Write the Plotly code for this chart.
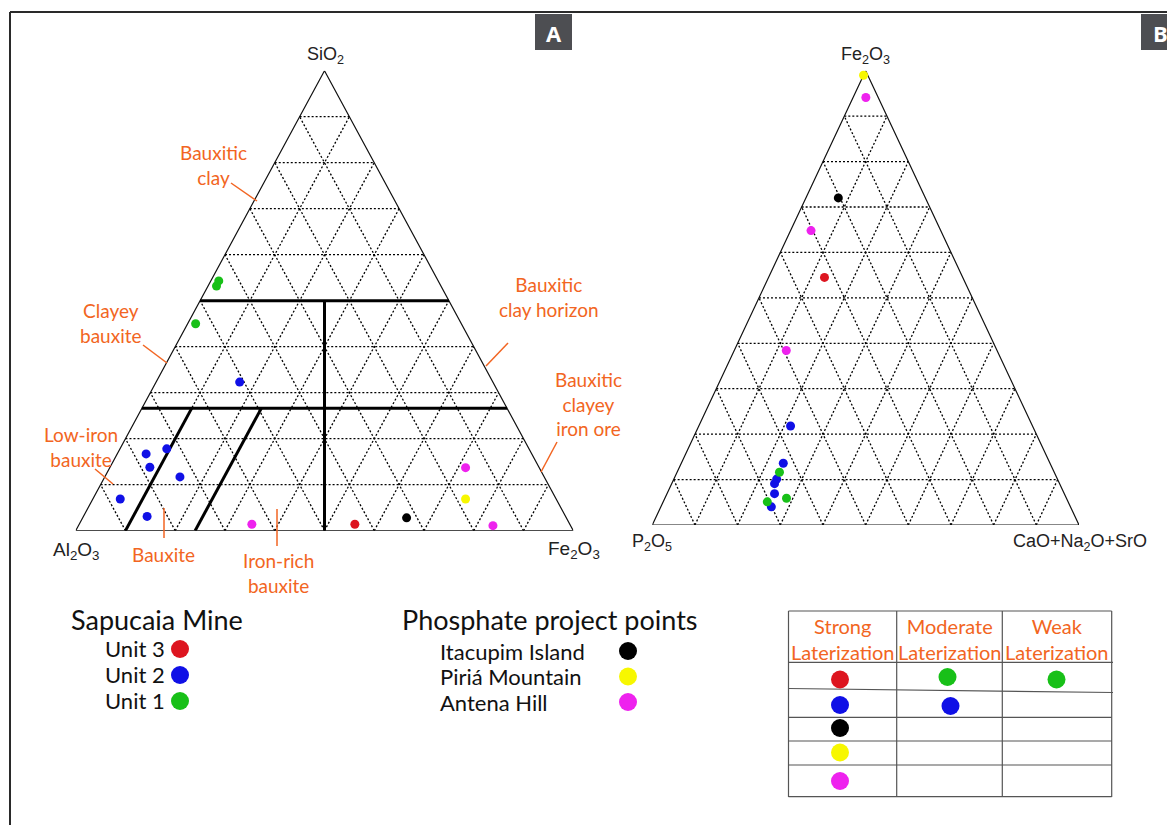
import plotly.graph_objects as go

W, H = 1167, 825

# ---------------- Diagram A: SiO2 (top) - Al2O3 (left) - Fe2O3 (right), wt.% ----------------
A_UNIT3_SIO2 = [1.4]
A_UNIT3_AL2O3 = [43.2]
A_UNIT3_FE2O3 = [55.4]

A_UNIT2_SIO2 = [32.3, 17.8, 16.7, 13.8, 11.7, 6.9, 3.1]
A_UNIT2_AL2O3 = [50.9, 72.8, 77.5, 78.2, 73.2, 87.6, 84.1]
A_UNIT2_FE2O3 = [16.8, 9.4, 5.8, 8.0, 15.1, 5.5, 12.8]

A_UNIT1_SIO2 = [53.2, 54.3, 45.0]
A_UNIT1_AL2O3 = [45.1, 44.1, 53.4]
A_UNIT1_FE2O3 = [1.7, 1.6, 1.6]

A_ITACUPIM_SIO2 = [2.8]
A_ITACUPIM_AL2O3 = [32.1]
A_ITACUPIM_FE2O3 = [65.1]

A_PIRIA_SIO2 = [6.9]
A_PIRIA_AL2O3 = [18.2]
A_PIRIA_FE2O3 = [74.9]

A_ANTENA_SIO2 = [1.4, 13.7, 1.1]
A_ANTENA_AL2O3 = [63.9, 14.8, 15.6]
A_ANTENA_FE2O3 = [34.7, 71.5, 83.3]

# field boundaries of diagram A (wt.%)
A_SIO2_BOUNDS = [50.0, 26.6]      # horizontal limits (full width)
A_FE2O3_BOUNDS = [10.0, 24.0]     # bauxite / iron-rich bauxite limits below the lower SiO2 limit

# ---------------- Diagram B: Fe2O3 (top) - P2O5 (left) - CaO+Na2O+SrO (right), wt.% ----------------
B_UNIT3_FE2O3 = [54.5]
B_UNIT3_P2O5 = [32.4]
B_UNIT3_CAO = [13.1]

B_UNIT2_FE2O3 = [21.8, 13.6, 10.1, 9.1, 6.9, 4.0]
B_UNIT2_P2O5 = [56.7, 62.5, 65.8, 66.8, 67.9, 70.1]
B_UNIT2_CAO = [21.5, 23.9, 24.1, 24.1, 25.2, 25.9]

B_UNIT1_FE2O3 = [11.6, 5.1, 5.9]
B_UNIT1_P2O5 = [64.4, 70.5, 65.6]
B_UNIT1_CAO = [24.0, 24.4, 28.5]

B_ITACUPIM_FE2O3 = [72.0]
B_ITACUPIM_P2O5 = [20.4]
B_ITACUPIM_CAO = [7.6]

B_PIRIA_FE2O3 = [99.0]
B_PIRIA_P2O5 = [1.0]
B_PIRIA_CAO = [0.0]

B_ANTENA_FE2O3 = [94.1, 64.8, 38.4]
B_ANTENA_P2O5 = [2.9, 30.4, 49.4]
B_ANTENA_CAO = [3.0, 4.8, 12.2]

GRID_STEPS = [10, 20, 30, 40, 50, 60, 70, 80, 90]

SERIES = ["Unit 3", "Unit 2", "Unit 1", "Itacupim Island", "Piriá Mountain", "Antena Hill"]
COLORS = {
    "Unit 3": "#dd1520",
    "Unit 2": "#1010e6",
    "Unit 1": "#18c018",
    "Itacupim Island": "#000000",
    "Piriá Mountain": "#f7f700",
    "Antena Hill": "#ee22ee",
}

# laterization table: which series fall in each column
STRONG = ["Unit 3", "Unit 2", "Itacupim Island", "Piriá Mountain", "Antena Hill"]
MODERATE = ["Unit 1", "Unit 2"]
WEAK = ["Unit 1"]

ORANGE = "#f26522"
AXIS_FONT = "Liberation Sans"
TEXT_FONT = "Lato"


def px(x):
    return x / W


def py(y):
    return 1 - y / H


def tern_xy(top, right):
    """Ternary (top, right) percentages -> unit-triangle cartesian coordinates."""
    xs = [(r + t / 2) / 100 for t, r in zip(top, right)]
    ys = [t / 100 for t in top]
    return xs, ys


def grid_lines(steps):
    xs, ys = [], []
    for s in steps:
        for t0, r0, t1, r1 in (
            (s, 0, s, 100 - s),            # constant top
            (0, s, 100 - s, s),            # constant right
            (0, 100 - s, 100 - s, 0),      # constant left
        ):
            x, y = tern_xy([t0, t1], [r0, r1])
            xs += x + [None]
            ys += y + [None]
    return xs, ys


fig = go.Figure()


def add_frame(xa, ya):
    gx, gy = grid_lines(GRID_STEPS)
    fig.add_trace(go.Scatter(x=gx, y=gy, mode="lines", xaxis=xa, yaxis=ya,
                             line=dict(color="#000000", width=1.3, dash="2px,2px"),
                             hoverinfo="skip", showlegend=False))
    ox, oy = tern_xy([0, 0, 100, 0], [0, 100, 0, 0])
    fig.add_trace(go.Scatter(x=ox, y=oy, mode="lines", xaxis=xa, yaxis=ya,
                             line=dict(color="#111111", width=1.2),
                             hoverinfo="skip", showlegend=False))


add_frame("x", "y")
add_frame("x2", "y2")

# field boundaries in diagram A
bx, by = [], []
for s in A_SIO2_BOUNDS:
    x, y = tern_xy([s, s], [0, 100 - s])
    bx += x + [None]
    by += y + [None]
x, y = tern_xy([A_SIO2_BOUNDS[0], 0], [(100 - A_SIO2_BOUNDS[0]) / 2, 50])
bx += x + [None]
by += y + [None]
for f in A_FE2O3_BOUNDS:
    x, y = tern_xy([A_SIO2_BOUNDS[1], 0], [f, f])
    bx += x + [None]
    by += y + [None]
fig.add_trace(go.Scatter(x=bx, y=by, mode="lines", xaxis="x", yaxis="y",
                         line=dict(color="#000000", width=3),
                         hoverinfo="skip", showlegend=False))

A_DATA = {
    "Unit 3": (A_UNIT3_SIO2, A_UNIT3_FE2O3),
    "Unit 2": (A_UNIT2_SIO2, A_UNIT2_FE2O3),
    "Unit 1": (A_UNIT1_SIO2, A_UNIT1_FE2O3),
    "Itacupim Island": (A_ITACUPIM_SIO2, A_ITACUPIM_FE2O3),
    "Piriá Mountain": (A_PIRIA_SIO2, A_PIRIA_FE2O3),
    "Antena Hill": (A_ANTENA_SIO2, A_ANTENA_FE2O3),
}
B_DATA = {
    "Unit 3": (B_UNIT3_FE2O3, B_UNIT3_CAO),
    "Unit 2": (B_UNIT2_FE2O3, B_UNIT2_CAO),
    "Unit 1": (B_UNIT1_FE2O3, B_UNIT1_CAO),
    "Itacupim Island": (B_ITACUPIM_FE2O3, B_ITACUPIM_CAO),
    "Piriá Mountain": (B_PIRIA_FE2O3, B_PIRIA_CAO),
    "Antena Hill": (B_ANTENA_FE2O3, B_ANTENA_CAO),
}

for data, xa, ya in ((A_DATA, "x", "y"), (B_DATA, "x2", "y2")):
    for name in SERIES:
        top, right = data[name]
        x, y = tern_xy(top, right)
        fig.add_trace(go.Scatter(x=x, y=y, mode="markers", name=name, xaxis=xa, yaxis=ya,
                                 marker=dict(color=COLORS[name], size=9, line=dict(width=0)),
                                 cliponaxis=False, showlegend=False))

shapes = []
annotations = []


def text(s, x, y, size, color="#111111", family=TEXT_FONT, xanchor="center"):
    annotations.append(dict(text=s, x=px(x), y=py(y), xref="paper", yref="paper",
                            xanchor=xanchor, yanchor="middle", showarrow=False,
                            font=dict(size=size, color=color, family=family)))


def line(x0, y0, x1, y1, color, width):
    shapes.append(dict(type="line", xref="paper", yref="paper",
                       x0=px(x0), y0=py(y0), x1=px(x1), y1=py(y1),
                       line=dict(color=color, width=width)))


def dot(x, y, color, r=9):
    shapes.append(dict(type="circle", xref="paper", yref="paper",
                       x0=px(x - r), x1=px(x + r), y0=py(y + r), y1=py(y - r),
                       fillcolor=color, line=dict(width=0)))


# outer frame
line(10, 12, 10, 825, "#2a2a2a", 2)
line(10, 12, 1167, 12, "#2a2a2a", 2)

# panel badges
shapes.append(dict(type="rect", xref="paper", yref="paper", x0=px(535), x1=px(572),
                   y0=py(50), y1=py(14), fillcolor="#4d4e52", line=dict(width=0)))
shapes.append(dict(type="rect", xref="paper", yref="paper", x0=px(1141), x1=px(1180),
                   y0=py(50), y1=py(14), fillcolor="#4d4e52", line=dict(width=0)))
text("<b>A</b>", 553.5, 33, 22, "#ffffff", "Open Sans")
text("<b>B</b>", 1160, 33, 22, "#ffffff", "Open Sans")

# corner labels
text("SiO<sub>2</sub>", 325, 56, 18, "#222222", AXIS_FONT)
text("Al<sub>2</sub>O<sub>3</sub>", 76, 551, 19, "#222222", AXIS_FONT)
text("Fe<sub>2</sub>O<sub>3</sub>", 574, 550, 19, "#222222", AXIS_FONT)
text("Fe<sub>2</sub>O<sub>3</sub>", 865.5, 56, 18, "#222222", AXIS_FONT)
text("P<sub>2</sub>O<sub>5</sub>", 652, 542, 18, "#222222", AXIS_FONT)
text("CaO+Na<sub>2</sub>O+SrO", 1080, 542, 18, "#222222", AXIS_FONT)

# field names in diagram A
text("Bauxitic<br>clay", 213, 165, 19, ORANGE)
line(231, 183, 257, 201, ORANGE, 1.5)
text("Clayey<br>bauxite", 111, 323, 19, ORANGE)
line(143, 345, 167, 363, ORANGE, 1.5)
text("Low-iron<br>bauxite", 81, 447, 19, ORANGE)
line(95, 469, 113, 484, ORANGE, 1.5)
text("Bauxite", 163, 554, 19, ORANGE)
line(164, 508, 164, 538, ORANGE, 1.5)
text("Iron-rich<br>bauxite", 278, 573, 19, ORANGE)
line(277, 509, 277, 546, ORANGE, 1.5)
text("Bauxitic<br>clay horizon", 549, 297, 19, ORANGE)
line(508, 343, 486, 366, ORANGE, 1.5)
text("Bauxitic<br>clayey<br>iron ore", 588.5, 404, 19, ORANGE)
line(557, 442, 541, 472, ORANGE, 1.5)

# legends
text("Sapucaia Mine", 69, 619, 27, "#111111", xanchor="left")
for i, name in enumerate(["Unit 3", "Unit 2", "Unit 1"]):
    yy = 648 + i * 26
    text(name, 103, yy, 22, "#111111", xanchor="left")
    dot(180, yy + 1, COLORS[name])

text("Phosphate project points", 400, 619, 27, "#111111", xanchor="left")
for i, name in enumerate(["Itacupim Island", "Piriá Mountain", "Antena Hill"]):
    yy = 651 + i * 25.5
    text(name, 438, yy, 22, "#111111", xanchor="left")
    dot(628, yy, COLORS[name])

# laterization table
TBL = "#555555"
cols = [788.5, 896.7, 1002.3, 1111.7]
for cx in cols:
    line(cx, 611, cx, 797, TBL, 1.2)
line(788.5, 611, 1111.7, 611, TBL, 1.2)
line(788.5, 662.3, 1113, 662.3, TBL, 1.2)
line(788.5, 688.5, 1113, 692.5, TBL, 1.2)
for ry in (717.3, 741, 765, 796.7):
    line(788.5, ry, 1111.7, ry, TBL, 1.2)

col_centres = [(cols[i] + cols[i + 1]) / 2 for i in range(3)]
for cx, head in zip(col_centres, ["Strong<br>Laterization", "Moderate<br>Laterization", "Weak<br>Laterization"]):
    text(head, cx, 639, 20, ORANGE)

row_centres = [679.5, 705, 728, 752.5, 781]
for j, name in enumerate(STRONG):
    dot(840, row_centres[j], COLORS[name])
dot(947.5, 677, COLORS[MODERATE[0]])
dot(950.5, 706, COLORS[MODERATE[1]])
dot(1056.5, 679.5, COLORS[WEAK[0]])

axis_off = dict(visible=False, showgrid=False, zeroline=False, fixedrange=True)
fig.update_layout(
    width=W, height=H,
    margin=dict(l=0, r=0, t=0, b=0),
    paper_bgcolor="#ffffff", plot_bgcolor="rgba(0,0,0,0)",
    showlegend=False,
    xaxis=dict(domain=[px(75.7), px(573.3)], range=[0, 1], anchor="y", **axis_off),
    yaxis=dict(domain=[py(530.7), py(70.7)], range=[0, 1], anchor="x", **axis_off),
    xaxis2=dict(domain=[px(652.3), px(1079)], range=[0, 1], anchor="y2", **axis_off),
    yaxis2=dict(domain=[py(525), py(70.7)], range=[0, 1], anchor="x2", **axis_off),
    shapes=shapes,
    annotations=annotations,
)

fig.write_html("out.html")
